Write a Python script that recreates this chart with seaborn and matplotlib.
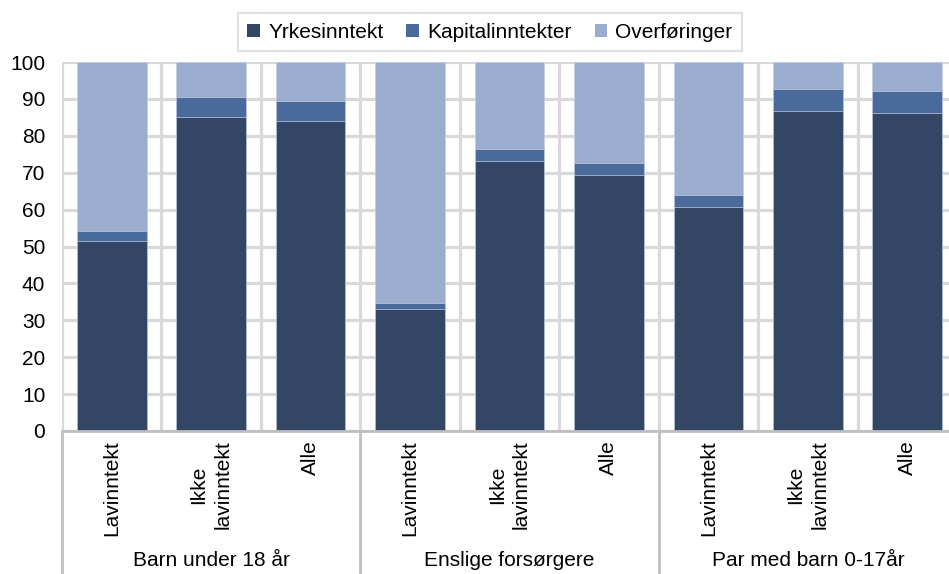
import matplotlib
matplotlib.use('Agg')

import numpy as np
import pandas as pd
import matplotlib.pyplot as plt
import matplotlib.transforms as mtransforms
from matplotlib.patches import Patch
import seaborn as sns

# Data (percent of total income)
groups = ["Barn under 18 år", "Enslige forsørgere", "Par med barn 0-17år"]
sub_labels = ["Lavinntekt", "Ikke\nlavinntekt", "Alle"]
yrkesinntekt = [51.6, 85.2, 84.1, 33.1, 73.2, 69.4, 60.8, 86.8, 86.2]
kapitalinntekter = [2.6, 5.3, 5.4, 1.7, 3.2, 3.2, 3.2, 5.9, 6.0]
overforinger = [45.8, 9.5, 10.5, 65.2, 23.6, 27.4, 36.0, 7.3, 7.8]
series_names = ["Yrkesinntekt", "Kapitalinntekter", "Overføringer"]
yticks = list(range(0, 101, 10))

colors = ["#344666", "#4a6a9c", "#9aadcf"]
grid_col = "#d9d9d9"
sep_col = "#bfbfbf"
fs = 15

sns.set_theme(style="white")
plt.rcParams['font.family'] = ['Liberation Sans', 'DejaVu Sans']
plt.rcParams['text.color'] = 'black'
plt.rcParams['xtick.color'] = 'black'
plt.rcParams['ytick.color'] = 'black'

keys = [f"{g}|{s}" for g in groups for s in sub_labels]
df = pd.DataFrame({
    "key": keys,
    "yrk": yrkesinntekt,
    "kap": kapitalinntekter,
    "ovf": overforinger,
})
df["c1"] = df["yrk"]
df["c2"] = df["yrk"] + df["kap"]
df["c3"] = df["c2"] + df["ovf"]

fig = plt.figure(figsize=(9.49, 5.74), dpi=100)
ax = fig.add_axes([62 / 949, 143 / 574, 895 / 949, 369 / 574])

# stacked bars: draw cumulative totals, tallest first
for col, c in zip(["c3", "c2", "c1"], colors[::-1]):
    sns.barplot(data=df, x="key", y=col, order=keys, color=c, width=0.7,
                edgecolor="#c5cfe2", linewidth=0.5, saturation=1, ax=ax, zorder=3)

ax.set_xlim(-0.5, len(keys) - 0.5)
ax.set_ylim(0, 100)
ax.set_yticks(yticks)
ax.set_xlabel("")
ax.set_ylabel("")
ax.set_xticks(np.arange(len(keys)))
ax.set_xticklabels(sub_labels * len(groups), rotation=90, ha="center", va="top",
                   multialignment="center", fontsize=fs, linespacing=1.35)
ax.set_xticks(np.arange(-0.5, len(keys), 1), minor=True)
ax.tick_params(axis="both", which="both", length=0)
ax.tick_params(axis="x", pad=7)
ax.tick_params(axis="y", pad=12, labelsize=fs)

ax.grid(axis="y", which="major", color=grid_col, lw=2.3, zorder=0)
ax.grid(axis="x", which="minor", color=grid_col, lw=2.3, zorder=0)
ax.grid(axis="x", which="major", visible=False)
ax.set_axisbelow(True)
for sp in ax.spines.values():
    sp.set_visible(False)
ax.axhline(0, color=sep_col, lw=2, zorder=4, clip_on=False)

# group separators and group labels below the axis
trans = mtransforms.blended_transform_factory(ax.transData, ax.transAxes)
for gx in np.arange(-0.5, len(keys), len(sub_labels)):
    ax.plot([gx, gx], [0, -0.4], color=sep_col, lw=2, transform=trans, clip_on=False)
for i, g in enumerate(groups):
    cx = i * len(sub_labels) + (len(sub_labels) - 1) / 2
    ax.text(cx, -0.35, g, transform=trans, ha="center", va="center", fontsize=fs)

handles = [Patch(facecolor=c, edgecolor="none") for c in colors]
leg = fig.legend(handles, series_names, loc="center", ncol=3,
                 bbox_to_anchor=(490 / 949, 1 - 32 / 574), fontsize=fs,
                 frameon=True, fancybox=False, handlelength=0.6, handleheight=0.6,
                 handletextpad=0.4, columnspacing=1.1, borderpad=0.45)
leg.get_frame().set_edgecolor(grid_col)
leg.get_frame().set_linewidth(1.5)

fig.savefig("out.png", dpi=100)
plt.close(fig)
